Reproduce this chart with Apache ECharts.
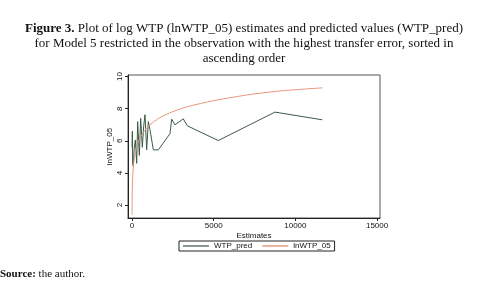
<!DOCTYPE html>
<html>
<head>
<meta charset="utf-8">
<script src="https://cdn.jsdelivr.net/npm/echarts@6/dist/echarts.min.js"></script>
<style>
  html, body { margin: 0; padding: 0; background: #fff; }
  #chart { width: 488px; height: 281px; }
</style>
</head>
<body>
<div id="chart"></div>
<script>
// values
var predX = [5, 20, 40, 82, 130, 204, 286, 347, 449, 530, 632, 714, 796, 898, 1000, 1100, 1306, 1612, 2325, 2420, 2430, 2630, 3140, 3385, 5283, 8750, 11650]
var predY = [5.6, 6.6, 4.6, 4.4, 5.5, 6.06, 4.6, 7.2, 5.1, 7.4, 5.6, 6.9, 7.63, 5.44, 7.2, 6.7, 5.44, 5.44, 6.45, 6.5, 7.35, 7.0, 7.37, 6.94, 6.02, 7.79, 7.31]
var lnX = [4, 10, 20, 50, 100, 200, 400, 700, 1100, 1700, 2500, 3400, 5000, 7000, 9000, 11650]
var lnY = [1.4, 2.3, 3.0, 3.9, 4.6, 5.3, 6.0, 6.55, 7.0, 7.44, 7.82, 8.13, 8.5, 8.85, 9.1, 9.3]
var xTicks = [0, 5000, 10000, 15000]
var yTicks = [2, 4, 6, 8, 10]
var titleLines = [
  '{b|Figure 3.} Plot of log WTP (lnWTP_05) estimates and predicted values (WTP_pred)',
  'for Model 5 restricted in the observation with the highest transfer error, sorted in',
  'ascending order'
]

function pairs (xs, ys) {
  return xs.map(function (x, i) { return [x, ys[i]] })
}

var myChart = echarts.init(document.getElementById('chart'))
var axisFont = { color: '#111', fontSize: 8, fontFamily: 'Liberation Sans' }

// title lines, centred
var graphics = titleLines.map(function (line, i) {
  return {
    type: 'text',
    x: 244,
    y: 22 + i * 15,
    style: {
      text: line,
      align: 'center',
      font: '13px "Liberation Serif"',
      fill: '#111',
      rich: { b: { fontWeight: 'bold', fontFamily: 'Liberation Serif', fontSize: 13, fill: '#111' } }
    }
  }
})
graphics.push({
  type: 'text',
  x: 0,
  y: 269,
  style: {
    text: '{b|Source:} the author.',
    font: '11px "Liberation Serif"',
    fill: '#111',
    rich: { b: { fontWeight: 'bold', fontFamily: 'Liberation Serif', fontSize: 11, fill: '#111' } }
  }
})

myChart.setOption({
  animation: false,
  graphic: graphics,
  legend: {
    left: 179,
    top: 241,
    padding: [1, 4],
    itemGap: 10,
    itemWidth: 26,
    itemHeight: 2,
    icon: 'rect',
    borderColor: '#222',
    borderWidth: 1,
    textStyle: { fontSize: 8, fontFamily: 'Liberation Sans', color: '#111' },
    data: ['WTP_pred', 'lnWTP_05']
  },
  grid: {
    left: 128,
    right: 108,
    top: 75,
    bottom: 63,
    show: true,
    borderColor: '#555',
    borderWidth: 1
  },
  xAxis: {
    type: 'value',
    min: -245,
    max: 15180,
    name: 'Estimates',
    nameLocation: 'middle',
    nameGap: 14,
    nameMoveOverlap: false,
    nameTextStyle: axisFont,
    axisLine: { onZero: false, lineStyle: { color: '#222' } },
    axisTick: { customValues: xTicks, length: 3, lineStyle: { color: '#222' } },
    axisLabel: {
      customValues: xTicks,
      margin: 4,
      color: '#111',
      fontSize: 8,
      fontFamily: 'Liberation Sans',
      formatter: function (v) { return String(v) }
    },
    splitLine: { show: false }
  },
  yAxis: {
    type: 'value',
    min: 1.2,
    max: 10.1,
    name: 'lnWTP_05',
    nameLocation: 'middle',
    nameGap: 14,
    nameMoveOverlap: false,
    nameTextStyle: axisFont,
    axisLine: { onZero: false, lineStyle: { color: '#222' } },
    axisTick: { customValues: yTicks, length: 3, lineStyle: { color: '#222' } },
    axisLabel: { customValues: yTicks, rotate: 90, margin: 4, color: '#111', fontSize: 8, fontFamily: 'Liberation Sans' },
    splitLine: { show: false }
  },
  series: [
    {
      name: 'WTP_pred',
      type: 'line',
      symbol: 'none',
      data: pairs(predX, predY),
      lineStyle: { color: '#3a5a46', width: 1 },
      itemStyle: { color: '#8a9a90' }
    },
    {
      name: 'lnWTP_05',
      type: 'line',
      symbol: 'none',
      smooth: 0.3,
      data: pairs(lnX, lnY),
      lineStyle: { color: '#e8967c', width: 1 },
      itemStyle: { color: '#eab4a2' }
    }
  ]
})
</script>
</body>
</html>
